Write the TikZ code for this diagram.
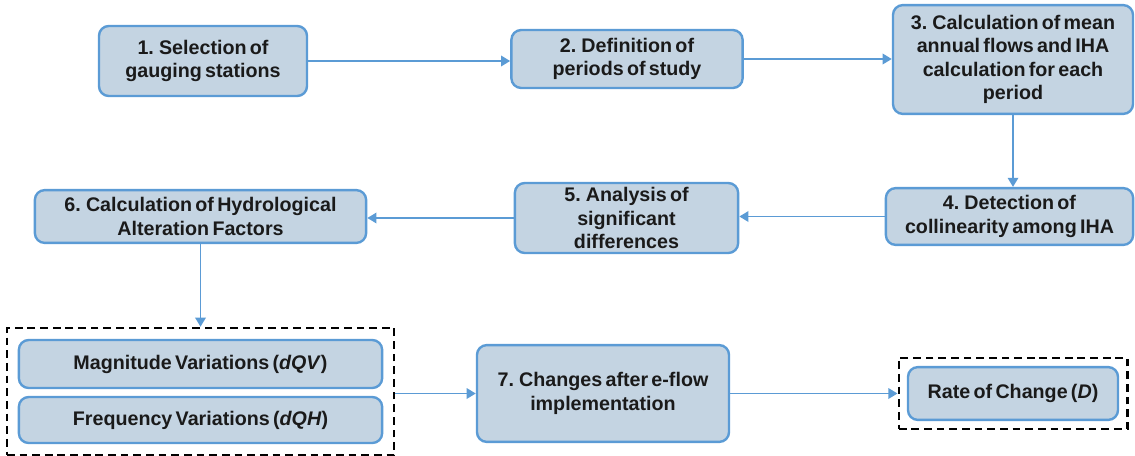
\documentclass[tikz,border=0pt]{standalone}
\usepackage{fontspec}
\setmainfont{Liberation Sans}[WordSpace=0.6]
\usepackage{xcolor}
\definecolor{stepfill}{RGB}{196, 212, 226}
\definecolor{stepblue}{RGB}{91, 155, 213}
\definecolor{steptext}{RGB}{26, 26, 26}
\usetikzlibrary{arrows.meta, positioning, calc, fit}

\begin{document}
\begin{tikzpicture}[
    x=0.025cm, y=-0.025cm,
    box/.style={rectangle, draw=stepblue, fill=stepfill, line width=1.7pt,
                align=center, rounded corners=7pt, inner sep=2pt,
                text=steptext, font=\fontsize{14}{16.5}\selectfont\bfseries},
    dashbox/.style={draw=black, dash pattern=on 5.5pt off 3.5pt, line width=1.8pt,
                    inner sep=0.27cm},
    arrow/.style={-{Triangle[length=6.5pt, width=7.5pt]}, line width=1.2pt, stepblue}
]
    \useasboundingbox (0,0) rectangle (1135,455);

    \node[box, minimum width=5.2cm, minimum height=1.75cm] (select) at (203,61) {1. Selection of\\gauging stations};
    \node[box, minimum width=5.78cm, minimum height=1.45cm] (periods) at (627,59) {2. Definition of\\periods of study};
    \node[box, minimum width=6cm, minimum height=2.72cm] (iha) at (1013,59.5) {3. Calculation of mean\\annual flows and IHA\\calculation for each\\period};
    \node[box, minimum width=6.18cm, minimum height=1.42cm] (collin) at (1009.5,216.5) {4. Detection of\\collinearity among IHA};
    \node[box, minimum width=5.58cm, minimum height=1.75cm] (signif) at (626.5,218) {5. Analysis of\\significant\\differences};
    \node[box, minimum width=8.28cm, minimum height=1.32cm] (factors) at (200.5,216.5) {6. Calculation of Hydrological\\Alteration Factors};

    \node[box, minimum width=9.08cm, minimum height=1.2cm] (magnitude) at (200.5,364) {Magnitude Variations (\textit{dQV})};
    \node[box, minimum width=9.08cm, minimum height=1.15cm] (frequency) at (200.5,420) {Frequency Variations (\textit{dQH})};
    \node[box, minimum width=6.3cm, minimum height=2.42cm] (eflow) at (603,393.5) {7. Changes after e-flow\\implementation};
    \node[box, minimum width=5.25cm, minimum height=1.32cm] (rate) at (1013,393.5) {Rate of Change (\textit{D})};

    % dashed groups
    \node[dashbox, fit=(magnitude)(frequency)] (variations) {};
    \node[dashbox, inner sep=0.2cm, fit=(rate)] (result) {};

    \draw[arrow] (select.east) -- (select.east -| periods.west);
    \draw[arrow] (periods.east) -- (periods.east -| iha.west);
    \draw[arrow] (iha.south) -- (iha.south |- collin.north);
    \draw[arrow] (collin.west) -- (collin.west -| signif.east);
    \draw[arrow] (signif.west) -- (signif.west -| factors.east);
    \draw[arrow] (factors.south) -- (factors.south |- variations.north);
    \draw[arrow] (variations.east |- eflow.west) -- (eflow.west);
    \draw[arrow] (eflow.east) -- (eflow.east -| result.west);
\end{tikzpicture}
\end{document}
